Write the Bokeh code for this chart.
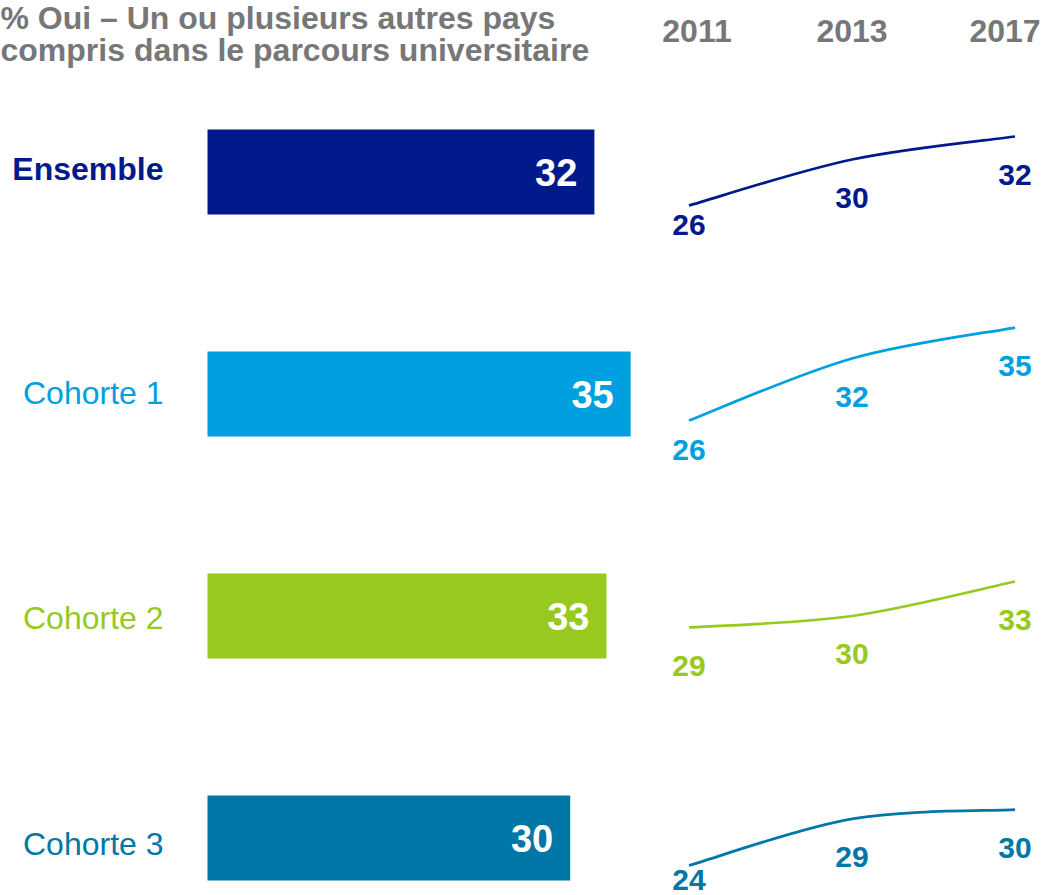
from bokeh.plotting import figure
from bokeh.models import Range1d
from bokeh.embed import file_html
from bokeh.resources import INLINE
from bokeh.core.properties import value

# ---------------- data ----------------
title_lines = ["% Oui – Un ou plusieurs autres pays",
               "compris dans le parcours universitaire"]
categories = ["Ensemble", "Cohorte 1", "Cohorte 2", "Cohorte 3"]
values_2017 = [32, 35, 33, 30]
years = ["2011", "2013", "2017"]
trend_ensemble = [26, 30, 32]
trend_cohorte1 = [26, 32, 35]
trend_cohorte2 = [29, 30, 33]
trend_cohorte3 = [24, 29, 30]
trends = [trend_ensemble, trend_cohorte1, trend_cohorte2, trend_cohorte3]
colors = ["#001A8C", "#00A0E0", "#97C91E", "#0077A6"]

# ---------------- layout / style ----------------
W, H = 1045, 895
FONT = value("Liberation Sans")
GREY = "#777777"
BAR_ZERO = 207.0      # px of value 0
BAR_PX = 12.09        # px per percentage point
ROW_TOP = 171.5
ROW_GAP = 222.0
BAR_H = 85
ROW_LABEL_DY = [-3, -1, 2, 6]
SPARK_X0 = 688.5
SPARK_STEP = 163.0
# per row sparkline scale: (anchor value, anchor px y, px per unit)
SPARK_ANCHORS = [(26, 205, 11.5), (26, 420, 10.33), (29, 627, 11.5), (24, 865, 9.33)]
FIRST_LABEL_DY = [19, 29, 38, 14]
LABEL_DY = 38
YEAR_DX = [8, 0, -10]

x_rng = Range1d(-BAR_ZERO / BAR_PX, (W - BAR_ZERO) / BAR_PX)
p = figure(width=W, height=H, output_backend="svg", toolbar_location=None,
           x_range=x_rng, y_range=Range1d(H, 0),
           x_axis_type=None, y_axis_type=None, title=None,
           min_border=0, outline_line_color=None)
p.grid.visible = False

p.extra_x_ranges = {"spark": Range1d(-SPARK_X0 / SPARK_STEP, (W - SPARK_X0) / SPARK_STEP)}
eyr = {}
for i, (a, ay, s) in enumerate(SPARK_ANCHORS):
    end = a + ay / s
    eyr[f"s{i}"] = Range1d(end - H / s, end)
p.extra_y_ranges = eyr

rows_y = [ROW_TOP + i * ROW_GAP for i in range(len(categories))]

# bars
p.hbar(y=rows_y, left=0, right=values_2017, height=BAR_H,
       fill_color=colors, line_color=None)
p.text(x=values_2017, y=rows_y, text=[str(v) for v in values_2017],
       x_offset=-17, text_align="right", text_baseline="middle",
       text_color="white", text_font=FONT, text_font_style="bold",
       text_font_size="38px")

# row labels
p.text(x=[0], y=rows_y[:1], text=categories[:1], x_offset=-44,
       y_offset=ROW_LABEL_DY[:1],
       text_align="right", text_baseline="middle", text_color=colors[0],
       text_font=FONT, text_font_style="bold", text_font_size="32px")
p.text(x=[0] * 3, y=rows_y[1:], text=categories[1:], x_offset=-44,
       y_offset=ROW_LABEL_DY[1:],
       text_align="right", text_baseline="middle", text_color=colors[1:],
       text_font=FONT, text_font_style="normal", text_font_size="32px")

# sparklines (smoothed with Catmull-Rom bezier segments)
xs = list(range(len(years)))
for i, tr in enumerate(trends):
    n = len(tr)
    seg = dict(x0=[], y0=[], x1=[], y1=[], cx0=[], cy0=[], cx1=[], cy1=[])
    for k in range(n - 1):
        k0, k3 = max(k - 1, 0), min(k + 2, n - 1)
        seg["x0"].append(xs[k]); seg["y0"].append(tr[k])
        seg["x1"].append(xs[k + 1]); seg["y1"].append(tr[k + 1])
        seg["cx0"].append(xs[k] + (xs[k + 1] - xs[k0]) / 6)
        seg["cy0"].append(tr[k] + (tr[k + 1] - tr[k0]) / 6)
        seg["cx1"].append(xs[k + 1] - (xs[k3] - xs[k]) / 6)
        seg["cy1"].append(tr[k + 1] - (tr[k3] - tr[k]) / 6)
    p.bezier(**seg, line_color=colors[i], line_width=2.75,
             x_range_name="spark", y_range_name=f"s{i}")
    dys = [FIRST_LABEL_DY[i]] + [LABEL_DY] * (n - 1)
    p.text(x=xs, y=tr, text=[str(v) for v in tr], y_offset=dys,
           text_align="center", text_baseline="middle", text_color=colors[i],
           text_font=FONT, text_font_style="bold", text_font_size="30px",
           x_range_name="spark", y_range_name=f"s{i}")

# year headers
p.text(x=xs, y=[30] * len(years), text=years, x_offset=YEAR_DX,
       x_range_name="spark", text_align="center", text_baseline="middle",
       text_color=GREY, text_font=FONT, text_font_style="bold",
       text_font_size="32px")

# title
p.text(x=[x_rng.start] * 2, y=[17, 49], text=title_lines,
       text_align="left", text_baseline="middle", text_color=GREY,
       text_font=FONT, text_font_style="bold", text_font_size="32px")

open("out.html", "w").write(file_html(p, INLINE))
